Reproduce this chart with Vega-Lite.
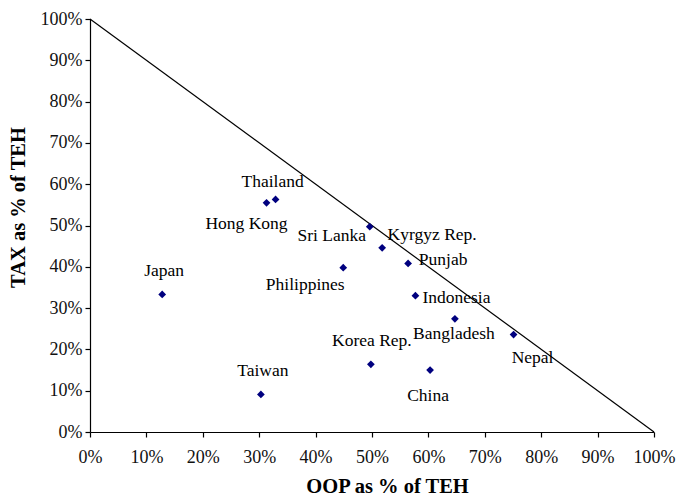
{
  "$schema": "https://vega.github.io/schema/vega-lite/v6.json",
  "width": 564,
  "height": 413,
  "autosize": {"type": "none"},
  "padding": {"left": 90, "top": 19, "right": 23, "bottom": 66},
  "background": "white",
  "config": {
    "view": {"stroke": null},
    "font": "Liberation Serif",
    "text": {"font": "Liberation Serif", "fontSize": 17.5, "color": "#000"},
    "axis": {"grid": false, "domainColor": "#000", "tickColor": "#000", "labelColor": "#111", "titleColor": "#000", "labelFont": "Liberation Serif", "titleFont": "Liberation Serif", "labelFontSize": 18, "titleFontWeight": "bold", "domainWidth": 1.2, "tickWidth": 1.2, "tickSize": 5, "labelOverlap": false, "labelBound": false, "labelFlush": false}
  },
  "datasets": {
    "pts": [
      {"name": "Japan", "oop": 12.8, "tax": 33.3},
      {"name": "Taiwan", "oop": 30.3, "tax": 9.1},
      {"name": "Thailand", "oop": 32.9, "tax": 56.3},
      {"name": "Hong Kong", "oop": 31.3, "tax": 55.5},
      {"name": "Sri Lanka", "oop": 49.6, "tax": 49.7},
      {"name": "Kyrgyz Rep.", "oop": 51.8, "tax": 44.6},
      {"name": "Punjab", "oop": 56.4, "tax": 40.8},
      {"name": "Philippines", "oop": 44.9, "tax": 39.8},
      {"name": "Indonesia", "oop": 57.7, "tax": 33.0},
      {"name": "Bangladesh", "oop": 64.7, "tax": 27.4},
      {"name": "Nepal", "oop": 75.1, "tax": 23.6},
      {"name": "Korea Rep.", "oop": 49.8, "tax": 16.4},
      {"name": "China", "oop": 60.3, "tax": 15.0}
    ],
    "diag": [
      {"oop": 0, "tax": 100},
      {"oop": 100, "tax": 0}
    ]
  },
  "encoding": {
    "x": {"field": "oop", "type": "quantitative", "scale": {"domain": [0, 100], "nice": false}, "axis": {"values": [0,10,20,30,40,50,60,70,80,90,100], "labelExpr": "datum.value + '%'", "title": "OOP as % of TEH", "titleFontSize": 20.5, "labelPadding": 11, "titleX": 297, "titleAlign": "center", "titleY": 54, "titleBaseline": "middle"}},
    "y": {"field": "tax", "type": "quantitative", "scale": {"domain": [0, 100], "nice": false}, "axis": {"values": [0,10,20,30,40,50,60,70,80,90,100], "labelExpr": "datum.value + '%'", "title": "TAX as % of TEH", "titleFontSize": 20.5, "labelPadding": 3, "titleX": -72, "titleY": 188, "titleAlign": "center", "titleBaseline": "middle"}}
  },
  "layer": [
    {"data": {"name": "diag"}, "mark": {"type": "line", "color": "#000", "strokeWidth": 1.2}, "encoding": {}},
    {"data": {"name": "pts"}, "mark": {"type": "point", "shape": "diamond", "filled": true, "color": "#00007f", "size": 60, "opacity": 1}, "encoding": {}},
    {"data": {"name": "pts"}, "transform": [{"filter": "datum.name == 'Japan'"}], "mark": {"type": "text", "dx": 2, "dy": -23}, "encoding": {"text": {"field": "name"}}},
    {"data": {"name": "pts"}, "transform": [{"filter": "datum.name == 'Taiwan'"}], "mark": {"type": "text", "dx": 2, "dy": -23}, "encoding": {"text": {"field": "name"}}},
    {"data": {"name": "pts"}, "transform": [{"filter": "datum.name == 'Thailand'"}], "mark": {"type": "text", "dx": -3, "dy": -17}, "encoding": {"text": {"field": "name"}}},
    {"data": {"name": "pts"}, "transform": [{"filter": "datum.name == 'Hong Kong'"}], "mark": {"type": "text", "dx": -20, "dy": 21}, "encoding": {"text": {"field": "name"}}},
    {"data": {"name": "pts"}, "transform": [{"filter": "datum.name == 'Sri Lanka'"}], "mark": {"type": "text", "dx": -38, "dy": 9}, "encoding": {"text": {"field": "name"}}},
    {"data": {"name": "pts"}, "transform": [{"filter": "datum.name == 'Kyrgyz Rep.'"}], "mark": {"type": "text", "dx": 50, "dy": -13}, "encoding": {"text": {"field": "name"}}},
    {"data": {"name": "pts"}, "transform": [{"filter": "datum.name == 'Punjab'"}], "mark": {"type": "text", "dx": 35, "dy": -3}, "encoding": {"text": {"field": "name"}}},
    {"data": {"name": "pts"}, "transform": [{"filter": "datum.name == 'Philippines'"}], "mark": {"type": "text", "dx": -38, "dy": 17}, "encoding": {"text": {"field": "name"}}},
    {"data": {"name": "pts"}, "transform": [{"filter": "datum.name == 'Indonesia'"}], "mark": {"type": "text", "dx": 41, "dy": 2}, "encoding": {"text": {"field": "name"}}},
    {"data": {"name": "pts"}, "transform": [{"filter": "datum.name == 'Bangladesh'"}], "mark": {"type": "text", "dx": -1, "dy": 15}, "encoding": {"text": {"field": "name"}}},
    {"data": {"name": "pts"}, "transform": [{"filter": "datum.name == 'Nepal'"}], "mark": {"type": "text", "dx": 19, "dy": 23}, "encoding": {"text": {"field": "name"}}},
    {"data": {"name": "pts"}, "transform": [{"filter": "datum.name == 'Korea Rep.'"}], "mark": {"type": "text", "dx": 1, "dy": -23}, "encoding": {"text": {"field": "name"}}},
    {"data": {"name": "pts"}, "transform": [{"filter": "datum.name == 'China'"}], "mark": {"type": "text", "dx": -2, "dy": 26}, "encoding": {"text": {"field": "name"}}}
  ]
}
